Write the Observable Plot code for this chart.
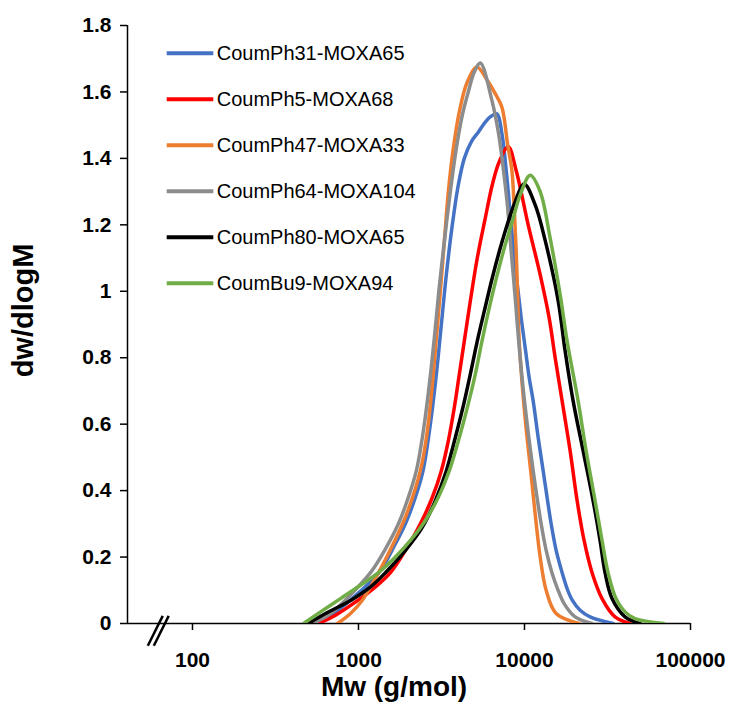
<!DOCTYPE html>
<html><head><meta charset="utf-8">
<script src="https://cdn.jsdelivr.net/npm/d3@7"></script>
<script src="https://cdn.jsdelivr.net/npm/@observablehq/plot@0.6"></script>
<style>body{margin:0;background:#fff}</style>
</head><body><div id="chart"></div>
<script>
const seriesNames = ["CoumPh31-MOXA65","CoumPh5-MOXA68","CoumPh47-MOXA33","CoumPh64-MOXA104","CoumPh80-MOXA65","CoumBu9-MOXA94"];
const seriesColors = ["#4472C4","#FF0000","#ED7D31","#8C8C8C","#000000","#70AD47"];

const mwBlue = [551,707,895,1328,1669,1917,2202,2449,2710,2945,3156,3382,3675,3993,4339,4781,5268,5803,6219,6824,
                7313,7761,8318,8914,9553,10097,10673,11281,12089,12955,14473,15511,16854,18062,19355,21625,24836,34150];
const wBlue  = [0,0.03,0.071,0.153,0.24,0.3,0.38,0.46,0.6,0.75,0.9,1.05,1.2,1.32,1.40,1.45,1.479,1.509,1.525,1.534,
                1.474,1.363,1.2,1.05,0.92,0.83,0.74,0.67,0.56,0.46,0.3,0.22,0.153,0.105,0.071,0.04,0.02,0];

const mwRed = [575,727,1000,1265,1557,1917,2360,2786,3156,3477,3778,4049,4339,4715,5195,5803,6394,7045,7980,
               8914,10525,12428,14077,15297,16854,18829,20745,22855,25533,29326,35109,43211];
const wRed  = [0,0.025,0.071,0.11,0.153,0.22,0.3,0.38,0.46,0.55,0.65,0.75,0.85,0.97,1.1,1.22,1.32,1.39,1.435,
               1.363,1.2,1.05,0.92,0.8,0.67,0.52,0.37,0.25,0.153,0.075,0.02,0];

const mwOrange = [748,895,1057,1319,1601,1917,2360,2600,2786,2945,3112,3290,3477,3726,4049,4523,5173,
                  5884,6665,7313,7902,8399,8670,8914,9101,9292,9686,10167,10897,11597,12428,13504,15511,21328];
const wOrange  = [0,0.03,0.071,0.153,0.235,0.32,0.46,0.58,0.72,0.86,1.0,1.15,1.30,1.43,1.54,1.63,1.675,
                  1.64,1.595,1.554,1.444,1.363,1.25,1.12,0.98,0.85,0.72,0.6,0.46,0.33,0.2,0.1,0.03,0];

const mwGray = [529,679,835,1181,1474,1740,1998,2232,2459,2673,2864,3048,3290,3574,3884,4221,4586,4984,5415,
                6368,6977,7477,7924,8318,8792,9228,9753,10381,11281,12601,13504,14634,15946,17328,20178,25533];
const wGray  = [0,0.03,0.071,0.153,0.23,0.3,0.38,0.46,0.58,0.72,0.86,1.0,1.15,1.30,1.43,1.53,1.6,1.66,1.687,
                1.574,1.475,1.363,1.25,1.12,0.98,0.85,0.72,0.6,0.46,0.3,0.22,0.153,0.1,0.06,0.02,0];

const mwBlack = [500,633,908,1181,1453,1917,2426,2904,3382,3831,4279,4715,5195,5724,6394,7143,7980,8792,9959,
                 11597,13319,15946,17569,19627,22541,25890,28523,30569,33679,40320,49631];
const wBlack  = [0,0.03,0.071,0.11,0.153,0.22,0.29,0.37,0.46,0.56,0.655,0.75,0.85,0.94,1.04,1.13,1.21,1.27,1.323,
                 1.26,1.153,0.972,0.82,0.67,0.52,0.37,0.25,0.153,0.075,0.02,0];

const mwGreen = [467,591,779,1028,1319,1669,2055,2529,3027,3526,4049,4523,5053,5544,6134,6852,7655,8552,9421,10822,
                 12428,14273,16394,18062,21034,23497,26616,29326,31865,35596,40320,46308,69185];
const wGreen  = [0,0.035,0.075,0.115,0.153,0.2,0.25,0.31,0.38,0.46,0.56,0.65,0.75,0.85,0.95,1.05,1.14,1.22,1.29,1.349,
                 1.3,1.16,0.99,0.85,0.67,0.52,0.37,0.25,0.153,0.075,0.035,0.015,0];

const xTicks = [100,1000,10000,100000];
const yTicks = [0,0.2,0.4,0.6,0.8,1,1.2,1.4,1.6,1.8];
const xDomain = [40.6, 100000];
const yDomain = [0, 1.8];
const breakMarks = [
  {x1: 53.8, y1: -0.067, x2: 66.2, y2: 0.023},
  {x1: 58.5, y1: -0.067, x2: 71.9, y2: 0.023}
];

const mwAll = [mwBlue, mwRed, mwOrange, mwGray, mwBlack, mwGreen];
const wAll = [wBlue, wRed, wOrange, wGray, wBlack, wGreen];
const rows = [];
seriesNames.forEach((name, i) => {
  mwAll[i].forEach((m, j) => rows.push({series: name, mw: m, w: wAll[i][j]}));
});

const font = "'Liberation Sans', Arial, sans-serif";
const chart = Plot.plot({
  width: 729, height: 713,
  marginLeft: 127, marginRight: 39, marginTop: 25, marginBottom: 90,
  style: {fontFamily: font, fontSize: "21px", fontWeight: "bold", color: "#000", background: "#fff"},
  x: {type: "log", domain: xDomain},
  y: {domain: yDomain},
  color: {domain: seriesNames, range: seriesColors},
  marks: [
    Plot.axisY({ticks: yTicks, tickSize: 7, tickPadding: 9, tickFormat: d => String(+d.toFixed(1)), label: null, strokeWidth: 1.5}),
    Plot.axisX({ticks: xTicks, tickSize: 7, tickPadding: 22, tickFormat: d => String(d), label: null, strokeWidth: 1.5}),
    Plot.ruleY([0], {strokeWidth: 1.5}),
    Plot.ruleX([xDomain[0]], {strokeWidth: 1.5}),
    Plot.line(rows, {x: "mw", y: "w", z: "series", stroke: "series", strokeWidth: 3.5, curve: "catmull-rom", clip: true}),
    Plot.link(breakMarks, {x1: "x1", y1: "y1", x2: "x2", y2: "y2", stroke: "#000", strokeWidth: 2.5}),
    Plot.text(["Mw (g/mol)"], {frameAnchor: "bottom", dy: 72, dx: -15, fontSize: 28, fontWeight: "bold"}),
    Plot.text(["dw/dlogM"], {frameAnchor: "left", textAnchor: "middle", rotate: -90, dx: -104, dy: -14, fontSize: 29, fontWeight: "bold"})
  ]
});

const svg = d3.select(chart);
const lg = svg.append("g")
  .style("font-family", font).style("font-size", "20px").style("font-weight", "normal")
  .attr("text-anchor", "start");
seriesNames.forEach((name, i) => {
  const y = 53.3 + i * 46;
  lg.append("line").attr("x1", 166.7).attr("x2", 213.3).attr("y1", y).attr("y2", y)
    .attr("stroke", seriesColors[i]).attr("stroke-width", 4);
  lg.append("text").attr("x", 216.7).attr("y", y).attr("dy", "0.35em")
    .attr("fill", "#000").attr("text-anchor", "start").text(name);
});
document.getElementById("chart").appendChild(chart);
</script>
</body></html>
